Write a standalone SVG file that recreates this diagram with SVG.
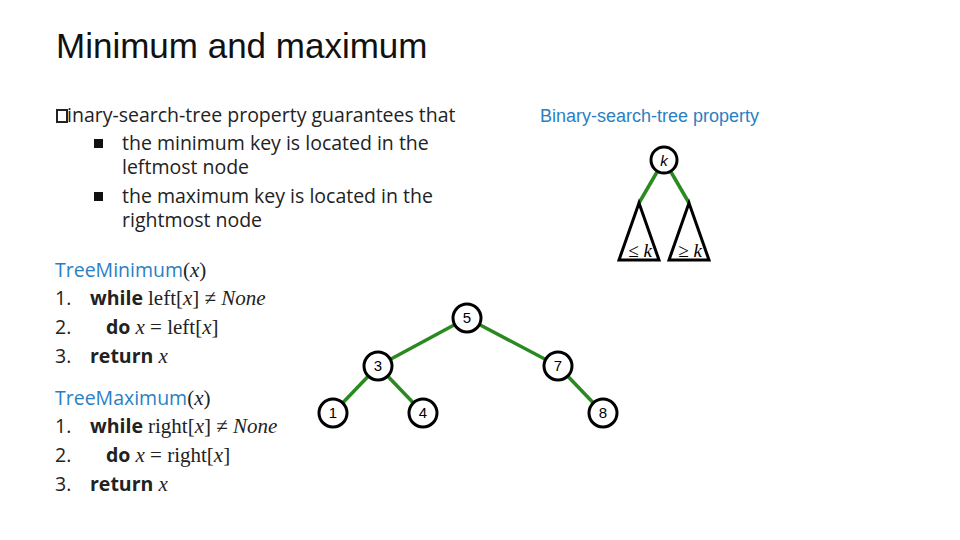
<svg xmlns="http://www.w3.org/2000/svg" width="960" height="540" viewBox="0 0 960 540">
<style>
.t{font-family:"Open Sans","Noto Sans",sans-serif;font-size:19.5px;fill:#222}
.b{font-weight:bold}
.m{font-family:"Liberation Serif",serif;font-size:21px}
.i{font-style:italic}
.blue{fill:#2a7fc4}
.e{stroke:#2a8a1f;stroke-width:3.5;fill:none}
.n circle{fill:#fff;stroke:#000;stroke-width:3}
.n text{font-family:"Liberation Sans",Arial,sans-serif;font-size:15px;text-anchor:middle;fill:#000}
</style>
<rect width="960" height="540" fill="#fff"/>
<text x="56" y="58" font-family="Liberation Sans,Arial,sans-serif" font-size="35" fill="#111">Minimum and maximum</text>
<rect x="57" y="110" width="10" height="12" fill="none" stroke="#222" stroke-width="2"/>
<text class="t" x="67" y="122">inary-search-tree property guarantees that</text>
<rect x="94" y="139" width="9" height="9" fill="#111"/>
<text class="t" x="122" y="150">the minimum key is located in the</text>
<text class="t" x="122" y="174">leftmost node</text>
<rect x="94" y="192" width="9" height="9" fill="#111"/>
<text class="t" x="122" y="203">the maximum key is located in the</text>
<text class="t" x="122" y="227">rightmost node</text>
<text class="t" x="55" y="277"><tspan class="blue">TreeMinimum</tspan><tspan class="m">(<tspan class="i">x</tspan>)</tspan></text>
<text class="t" x="55" y="305">1.</text><text class="t" x="90" y="305"><tspan class="b">while </tspan><tspan class="m">left[<tspan class="i">x</tspan>] ≠ <tspan class="i">None</tspan></tspan></text>
<text class="t" x="55" y="334">2.</text><text class="t" x="106" y="334"><tspan class="b">do </tspan><tspan class="m"><tspan class="i">x</tspan> = left[<tspan class="i">x</tspan>]</tspan></text>
<text class="t" x="55" y="363">3.</text><text class="t" x="90" y="363"><tspan class="b">return </tspan><tspan class="m i">x</tspan></text>
<text class="t" x="55" y="405"><tspan class="blue">TreeMaximum</tspan><tspan class="m">(<tspan class="i">x</tspan>)</tspan></text>
<text class="t" x="55" y="433">1.</text><text class="t" x="90" y="433"><tspan class="b">while </tspan><tspan class="m">right[<tspan class="i">x</tspan>] ≠ <tspan class="i">None</tspan></tspan></text>
<text class="t" x="55" y="462">2.</text><text class="t" x="106" y="462"><tspan class="b">do </tspan><tspan class="m"><tspan class="i">x</tspan> = right[<tspan class="i">x</tspan>]</tspan></text>
<text class="t" x="55" y="491">3.</text><text class="t" x="90" y="491"><tspan class="b">return </tspan><tspan class="m i">x</tspan></text>
<text x="540" y="122" font-family="Liberation Sans,Arial,sans-serif" font-size="18" fill="#2a7fc4">Binary-search-tree property</text>
<g id="connectors">
<line class="e" x1="657" y1="172" x2="639" y2="203"/>
<line class="e" x1="671" y1="172" x2="689" y2="203"/>
<line class="e" x1="467" y1="318" x2="378" y2="366"/>
<line class="e" x1="467" y1="318" x2="558" y2="366"/>
<line class="e" x1="378" y1="366" x2="333" y2="413"/>
<line class="e" x1="378" y1="366" x2="423" y2="413"/>
<line class="e" x1="558" y1="366" x2="603" y2="413"/>
</g>
<g id="prop">
<polygon points="639,203 619,260 659,260" fill="#fff" stroke="#000" stroke-width="3"/>
<polygon points="689,203 669,260 709,260" fill="#fff" stroke="#000" stroke-width="3"/>
<text x="640" y="257" font-family="Liberation Serif,serif" font-size="19" text-anchor="middle">≤ <tspan font-style="italic">k</tspan></text>
<text x="690" y="257" font-family="Liberation Serif,serif" font-size="19" text-anchor="middle">≥ <tspan font-style="italic">k</tspan></text>
</g>
<g id="nk" class="n"><circle cx="664" cy="160" r="13"/><text x="664" y="166" font-family="Liberation Serif,serif" font-style="italic" font-size="18">k</text></g>
<g id="n5" class="n"><circle cx="467" cy="318" r="14"/><text x="467" y="323">5</text></g>
<g id="n3" class="n"><circle cx="378" cy="366" r="14"/><text x="378" y="371">3</text></g>
<g id="n7" class="n"><circle cx="558" cy="366" r="14"/><text x="558" y="371">7</text></g>
<g id="n1" class="n"><circle cx="333" cy="413" r="14"/><text x="333" y="418">1</text></g>
<g id="n4" class="n"><circle cx="423" cy="413" r="14"/><text x="423" y="418">4</text></g>
<g id="n8" class="n"><circle cx="603" cy="413" r="14"/><text x="603" y="418">8</text></g>
</svg>
